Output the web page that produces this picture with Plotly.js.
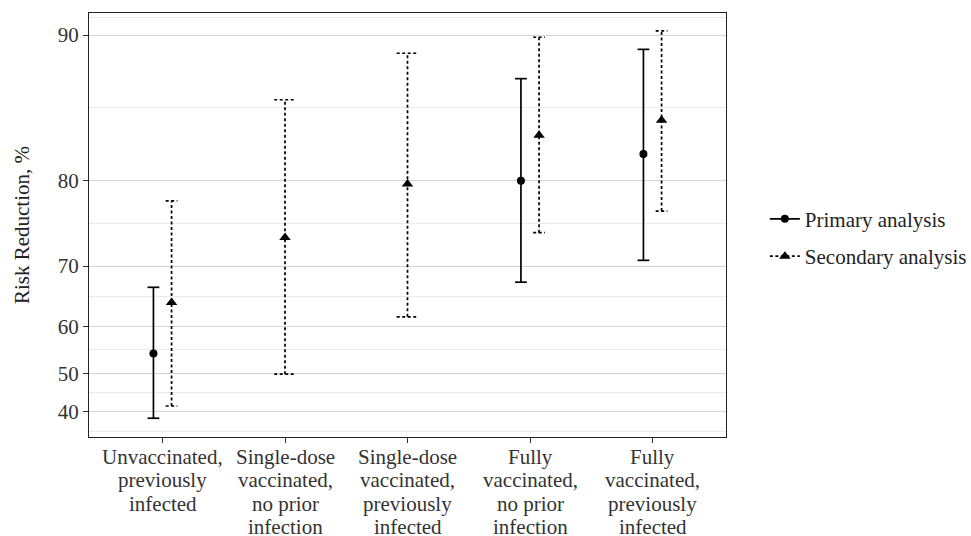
<!DOCTYPE html>
<html>
<head>
<meta charset="utf-8">
<script src="https://cdn.plot.ly/plotly-3.0.1.min.js"></script>
</head>
<body style="margin:0;background:#fff">
<div id="chart" style="width:971px;height:536px"></div>
<script>
// ---- data (risk reduction, %) ----
const categories = [
  ["Unvaccinated,", "previously", "infected"],
  ["Single-dose", "vaccinated,", "no prior", "infection"],
  ["Single-dose", "vaccinated,", "previously", "infected"],
  ["Fully", "vaccinated,", "no prior", "infection"],
  ["Fully", "vaccinated,", "previously", "infected"]
];
const primaryEst  = [54.5, null, null, 80.0, 82.4];
const primaryLow  = [38.1, null, null, 67.6, 70.8];
const primaryHigh = [66.8, null, null, 87.7, 89.3];
const secondaryEst  = [64.3, 73.8, 79.7, 83.9, 85.0];
const secondaryLow  = [41.6, 49.8, 61.8, 74.4, 76.9];
const secondaryHigh = [78.0, 86.4, 89.1, 89.9, 90.2];
const majorTicks = [40, 50, 60, 70, 80, 90];
const minorTicks = [34.2, 45.2, 55.3, 65.4, 75.5, 85.9, 90.8];

// ---- scale: risk reduction -> risk ratio (log axis, reversed) ----
const toRatio = v => (v === null ? null : 1 - v / 100);
const FONT = 'Liberation Serif';
const FS = 21;

const dodge = 0.074;
function xPos(i, which) {
  const both = primaryEst[i] !== null && secondaryEst[i] !== null;
  if (!both) return i;
  return which === 'p' ? i - dodge : i + dodge;
}
function segs(est, lo, hi, which) {
  const X = [], Y = [], MX = [], MY = [];
  est.forEach((e, i) => {
    if (e === null) return;
    const x = xPos(i, which);
    const both = primaryEst[i] !== null && secondaryEst[i] !== null;
    const hw = both ? 0.048 : 0.088;
    const a = toRatio(lo[i]), b = toRatio(hi[i]);
    X.push(x, x, null, x - hw, x + hw, null, x - hw, x + hw, null);
    Y.push(a, b, null, a, a, null, b, b, null);
    MX.push(x); MY.push(toRatio(e));
  });
  return {X, Y, MX, MY};
}
const P = segs(primaryEst, primaryLow, primaryHigh, 'p');
const S = segs(secondaryEst, secondaryLow, secondaryHigh, 's');

const lineP = {color: '#000', width: 1.7};
const lineS = {color: '#000', width: 1.7, dash: '3px,2.5px'};

const traces = [
  {x: P.X, y: P.Y, mode: 'lines', line: lineP, showlegend: false, hoverinfo: 'skip'},
  {x: P.MX, y: P.MY, mode: 'markers', marker: {symbol: 'circle', size: 8, color: '#000'}, showlegend: false},
  {x: S.X, y: S.Y, mode: 'lines', line: lineS, showlegend: false, hoverinfo: 'skip'},
  {x: S.MX, y: S.MY, mode: 'markers', marker: {symbol: 'triangle-up', size: 10, color: '#000'}, showlegend: false},
  {x: [null], y: [null], mode: 'lines+markers', name: 'Primary analysis', legendgroup: 'p',
   line: lineP, marker: {symbol: 'circle', size: 8, color: '#000'}},
  {x: [null], y: [null], mode: 'lines+markers', name: 'Secondary analysis', legendgroup: 's',
   line: lineS, marker: {symbol: 'triangle-up', size: 10, color: '#000'}}
];

// category labels: one annotation per line so the line spacing matches
const annotations = [];
categories.forEach((lines, i) => {
  lines.forEach((t, k) => {
    annotations.push({
      x: i, xref: 'x', y: 0, yref: 'paper', yanchor: 'middle', xanchor: 'center',
      yshift: -(20 + k * 23.3), text: t, showarrow: false, borderpad: 0,
      font: {family: FONT, size: FS, color: '#333'}
    });
  });
});

const layout = {
  width: 971, height: 536,
  margin: {l: 89, r: 245, t: 13, b: 99, autoexpand: false},
  paper_bgcolor: '#fff', plot_bgcolor: '#fff',
  font: {family: FONT, size: FS, color: '#333'},
  showlegend: true,
  annotations: annotations,
  legend: {x: 1.061, xanchor: 'left', y: 0.47, yanchor: 'middle',
           font: {family: FONT, size: FS, color: '#222'},
           traceorder: 'grouped', tracegroupgap: 7, bgcolor: 'rgba(0,0,0,0)'},
  xaxis: {
    range: [-0.6, 4.6], tickmode: 'array', tickvals: categories.map((c, i) => i),
    showticklabels: false,
    showgrid: false, zeroline: false, showline: true, linecolor: '#222', linewidth: 1.2, mirror: true,
    ticks: 'outside', ticklen: 5, tickcolor: '#333'
  },
  yaxis: {
    type: 'log',
    range: [Math.log10(toRatio(32.32)), Math.log10(toRatio(91.0))],
    tickmode: 'array', tickvals: majorTicks.map(toRatio), ticktext: majorTicks.map(String),
    showgrid: true, gridcolor: '#d4d4d4', gridwidth: 1,
    minor: {tickmode: 'array', tickvals: minorTicks.map(toRatio), showgrid: true, gridcolor: '#ebebeb', gridwidth: 1, ticks: ''},
    zeroline: false, showline: true, linecolor: '#222', linewidth: 1.2, mirror: true,
    ticks: 'outside', ticklen: 5, tickcolor: '#333', tickfont: {family: FONT, size: FS, color: '#333'},
    title: {text: 'Risk Reduction, %', standoff: 22, font: {family: FONT, size: FS, color: '#222'}}
  }
};

Plotly.newPlot('chart', traces, layout, {displayModeBar: false});
</script>
</body>
</html>
